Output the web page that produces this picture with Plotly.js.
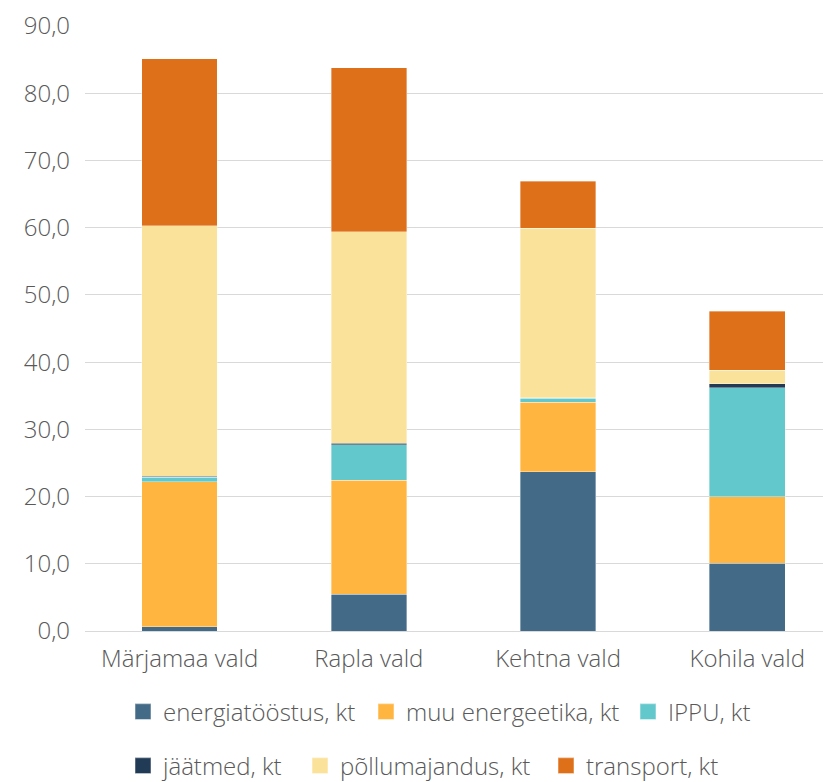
<!DOCTYPE html>
<html>
<head>
<meta charset="utf-8">
<script src="https://cdn.plot.ly/plotly-3.0.1.min.js"></script>
<style>
  html, body { margin: 0; padding: 0; background: #ffffff; }
  #chart { width: 823px; height: 782px; }
</style>
</head>
<body>
<div id="chart"></div>
<script>
// Municipalities
const categories = ["Märjamaa vald", "Rapla vald", "Kehtna vald", "Kohila vald"];

// Emissions by sector, kt
const energiatoostus = [0.6, 5.5, 23.7, 10.1];
const muuEnergeetika = [21.6, 16.9, 10.3, 9.9];
const ippu = [0.7, 5.3, 0.6, 16.2];
const jaatmed = [0.1, 0.2, 0.1, 0.6];
const pollumajandus = [37.3, 31.5, 25.2, 2.0];
const transport = [24.8, 24.4, 7.0, 8.8];

const seriesNames = ["energiatööstus, kt", "muu energeetika, kt", "IPPU, kt",
                     "jäätmed, kt", "põllumajandus, kt", "transport, kt"];
const seriesValues = [energiatoostus, muuEnergeetika, ippu, jaatmed, pollumajandus, transport];
const seriesColors = ["#436b88", "#ffb53f", "#63c8cc", "#213a55", "#fbe29b", "#df701a"];

// one legend box per series, laid out in two rows under the plot
const legendSlots = [
  { x: 123, y: 712 }, { x: 366, y: 712 }, { x: 628, y: 712 },
  { x: 123, y: 766 }, { x: 300, y: 766 }, { x: 546, y: 766 }
];

const baseFont = { family: "'Open Sans', Lato, sans-serif", size: 24, weight: 300, color: "#595959" };

const traces = seriesValues.map((vals, i) => ({
  type: "bar",
  name: seriesNames[i],
  x: categories,
  y: vals,
  width: 0.4,
  legend: i === 0 ? "legend" : "legend" + (i + 1),
  marker: { color: seriesColors[i], line: { color: "rgba(255,255,255,0.45)", width: 0.8 } },
  hoverinfo: "name+y"
}));

const layout = {
  width: 823,
  height: 782,
  margin: { l: 85, r: 0, t: 26, b: 151 },
  paper_bgcolor: "#ffffff",
  plot_bgcolor: "#ffffff",
  barmode: "stack",
  separators: ", ",
  font: baseFont,
  showlegend: true,
  xaxis: {
    range: [-0.5, 3.4],
    showgrid: false,
    zeroline: false,
    showline: false,
    ticks: "",
    ticklabelstandoff: 11,
    tickfont: baseFont,
    fixedrange: true,
    automargin: false
  },
  yaxis: {
    range: [0, 90],
    dtick: 10,
    tick0: 0,
    tickformat: ".1f",
    showgrid: true,
    gridcolor: "#d9d9d9",
    gridwidth: 1,
    zeroline: true,
    zerolinecolor: "#d9d9d9",
    zerolinewidth: 1,
    showline: false,
    ticks: "",
    ticklabelstandoff: 14,
    tickfont: baseFont,
    fixedrange: true,
    automargin: false
  }
};

legendSlots.forEach((slot, i) => {
  layout[i === 0 ? "legend" : "legend" + (i + 1)] = {
    orientation: "h",
    xref: "container", yref: "container",
    x: slot.x / 823, xanchor: "left",
    y: 1 - slot.y / 782, yanchor: "middle",
    font: baseFont,
    itemclick: false, itemdoubleclick: false
  };
});

Plotly.newPlot("chart", traces, layout, { displayModeBar: false, staticPlot: true }).then(gd => {
  // enlarge the square legend swatches a little, keeping their own offset
  gd.querySelectorAll(".legendpoints path").forEach(p => {
    const t = p.getAttribute("transform") || "";
    p.setAttribute("transform", (t + " scale(1.33)").trim());
  });
});
</script>
</body>
</html>
